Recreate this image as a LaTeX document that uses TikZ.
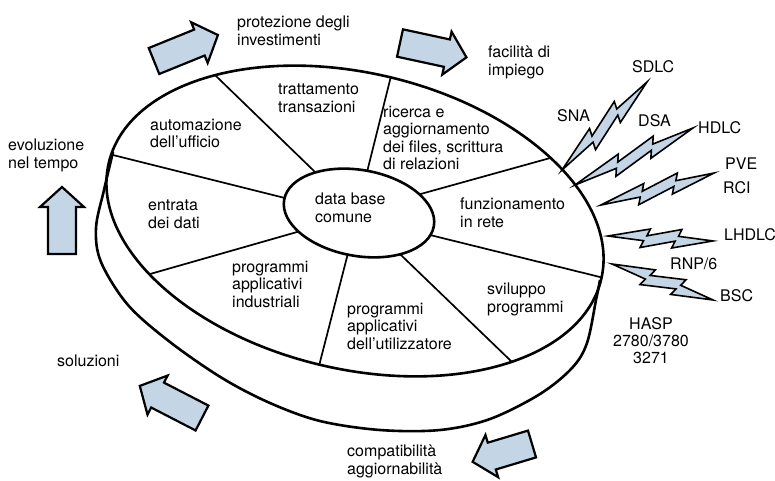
\documentclass[tikz,border=0pt]{standalone}
\usepackage{fontspec}
\setmainfont{TeX Gyre Heros}
\usetikzlibrary{calc}
\definecolor{pale}{RGB}{196,213,230}
\tikzset{
  rim/.style={line width=2.6pt},
  divider/.style={line width=1.7pt},
  lbl/.style={inner sep=0pt, anchor=north west, align=left, font=\fontsize{16}{17.3}\selectfont, execute at begin node=\strut},
  barrow/.style={draw=black, fill=pale, line width=2.2pt, line join=miter},
  boltst/.style={draw=black, fill=pale, line width=1.6pt, line join=miter},
}
\newcommand{\blockarrow}[4]{%
  \begin{scope}[shift={(#1,#2)}, rotate=#3]
    \draw[barrow] (0,-14) -- ({#4-20},-14) -- ({#4-20},-22) -- (#4,0) -- ({#4-20},22) -- ({#4-20},14) -- (0,14) -- cycle;
  \end{scope}}
\newcommand{\zigbolt}[4]{%
  \begin{scope}[shift={(#1,#2)}, rotate=#3, xscale=#4]
    \draw[boltst] (0,0) -- (40,-9) -- (37,-2) -- (70,-10) -- (67,-3) -- (100,0) -- (61,9) -- (64,2) -- (31,10) -- (34,3) -- cycle;
  \end{scope}}
\begin{document}
\begin{tikzpicture}[x=1pt,y=-1pt]
\useasboundingbox (0,0) rectangle (775,480);
% side of the disk
\draw[rim, line join=round] plot[smooth, tension=0.55] coordinates {(113,152) (104,190) (96,228) (101,262) (128,305) (170,342) (222,378) (270,403) (320,421) (380,430) (440,430) (490,419) (540,394) (572,368) (587,343) (596,300) (600,280)};
% dividers
\begin{scope}
  \clip[rotate around={-13.3:(355,221)}] (355,221) ellipse [x radius=253, y radius=148];
  \foreach \ix/\iy/\ox/\oy in {313/170/217/77, 367/172/390/80, 417/195/543/160, 430/235/600/277, 403/257/512/362, 347/257/320/362, 297/232/157/272, 285/198/113/155}
    \draw[divider] ($(\ix,\iy)!-0.15!(\ox,\oy)$) -- ($(\ix,\iy)!1.1!(\ox,\oy)$);
\end{scope}
% centre ellipse
\draw[rim, fill=white, rotate around={-10:(359,213)}] (359,213) ellipse [x radius=76, y radius=43];
% top rim
\draw[rim, rotate around={-13.3:(355,221)}] (355,221) ellipse [x radius=253, y radius=148];
% sector labels
\node[lbl] (trat) at (278,84) {trattamento\\transazioni};
\node[lbl] (auto) at (150,119) {automazione\\dell'ufficio};
\node[lbl] (ric) at (383,106) {ricerca e\\aggiornamento\\dei files, scrittura\\di relazioni};
\node[lbl] (db) at (315,193) {data base\\comune};
\node[lbl] (funz) at (460,198) {funzionamento\\in rete};
\node[lbl] (entr) at (148,200) {entrata\\dei dati};
\node[lbl] (pind) at (232,261) {programmi\\applicativi\\industriali};
\node[lbl] (putil) at (347,303) {programmi\\applicativi\\dell'utilizzatore};
\node[lbl] (svil) at (487,283) {sviluppo\\programmi};
% outer labels
\node[lbl] (prot) at (237,16) {protezione degli\\investimenti};
\node[lbl] (fac) at (488,46) {facilità di\\impiego};
\node[lbl] (evo) at (8,139) {evoluzione\\nel tempo};
\node[lbl] (sol) at (57,354) {soluzioni};
\node[lbl] (comp) at (347,445) {compatibilità\\aggiornabilità};
% block arrows
\blockarrow{154}{61}{22.1}{69}
\blockarrow{400}{43}{-12.2}{68}
\blockarrow{62}{254}{90}{67}
\blockarrow{202}{418}{152.7}{70}
\blockarrow{532}{444}{196.7}{62}
% lightning bolts
\zigbolt{562}{170}{46.0}{1.223}
\zigbolt{575}{185}{25.8}{1.31}
\zigbolt{601}{205}{15.8}{1.174}
\zigbolt{608}{236}{-2.7}{1.051}
\zigbolt{612}{264}{-19.6}{1.072}
% protocol labels
\node[lbl] (sdlc) at (632,60) {SDLC};
\node[lbl] (sna) at (557,109) {SNA};
\node[lbl] (dsa) at (638,114) {DSA};
\node[lbl] (hdlc) at (698,121) {HDLC};
\node[lbl] (pve) at (725,157) {PVE};
\node[lbl] (rci) at (723,181) {RCI};
\node[lbl] (lhdlc) at (724,228) {LHDLC};
\node[lbl] (rnp) at (670,257) {RNP/6};
\node[lbl] (bsc) at (720,289) {BSC};
\node[lbl, anchor=north, align=center] (hasp) at (651,317) {HASP\\2780/3780\\3271};
\end{tikzpicture}
\end{document}
